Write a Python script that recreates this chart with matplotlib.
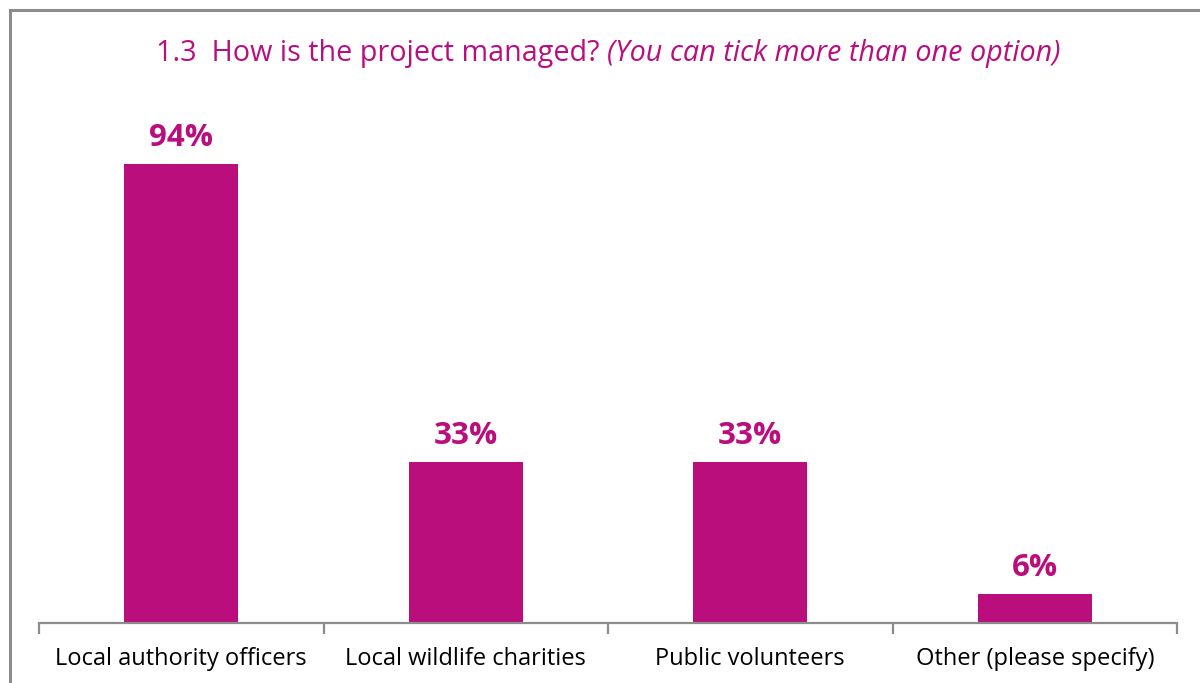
import matplotlib
matplotlib.use("Agg")
import matplotlib.pyplot as plt
from matplotlib.patches import Rectangle

# Survey responses
categories = ["Local authority officers", "Local wildlife charities",
              "Public volunteers", "Other (please specify)"]
percentages = [94, 33, 33, 6]
value_labels = ["94%", "33%", "33%", "6%"]
title_main = "1.3  How is the project managed? "
title_note = "(You can tick more than one option)"

MAGENTA = "#BA0E7D"
GREY = "#8C8C8C"
FONT = "Open Sans"

W, H = 1200, 683
fig = plt.figure(figsize=(W / 100, H / 100), dpi=100)
fig.patch.set_facecolor("white")

# Outer frame (open on the right and bottom edges)
fig.patches.append(Rectangle((10 / W, -0.1), 1.2, 1 - 10 / H + 0.1,
                             transform=fig.transFigure, fill=False,
                             edgecolor=GREY, linewidth=2.2))

# Axes placed in pixel terms
left, right, bottom, top = 39, 1177, 623, 100
ax = fig.add_axes([left / W, 1 - bottom / H, (right - left) / W, (bottom - top) / H])
x = list(range(len(categories)))
px_per_pct = (623 - 164) / 94.0
ax.set_ylim(0, (bottom - top) / px_per_pct)
ax.set_xlim(-0.5, len(categories) - 0.5)

ax.bar(x, percentages, width=0.4, color=MAGENTA)
for xi, v, lab in zip(x, percentages, value_labels):
    ax.annotate(lab, (xi, v), xytext=(0, 18), textcoords="offset pixels",
                ha="center", va="baseline", color=MAGENTA,
                fontsize=22.5, fontweight="bold", family=FONT)

for s in ["top", "right", "left"]:
    ax.spines[s].set_visible(False)
ax.spines["bottom"].set_color(GREY)
ax.spines["bottom"].set_linewidth(1.6)
ax.set_yticks([])

ax.set_xticks(x)
ax.set_xticklabels(categories, fontsize=17, family=FONT, color="black")
ax.tick_params(axis="x", which="major", length=0, pad=17)
ax.set_xticks([i - 0.5 for i in range(len(categories) + 1)], minor=True)
ax.tick_params(axis="x", which="minor", length=8, width=1.6, color=GREY)

# Title: regular question followed by italic note, centred over the axes
fig.canvas.draw()
r = fig.canvas.get_renderer()
t1 = fig.text(0, 0, title_main, fontsize=20.7, family=FONT, color=MAGENTA,
              va="baseline", ha="left")
t2 = fig.text(0, 0, title_note, fontsize=20.7, family=FONT, color=MAGENTA,
              style="italic", va="baseline", ha="left")
w1 = t1.get_window_extent(r).width
w2 = t2.get_window_extent(r).width
cx = (left + right) / 2
x0 = cx - (w1 + w2) / 2
base = H - 61
t1.set_position((x0 / W, base / H))
t2.set_position(((x0 + w1) / W, base / H))

fig.savefig("out.png", dpi=100, facecolor="white")
